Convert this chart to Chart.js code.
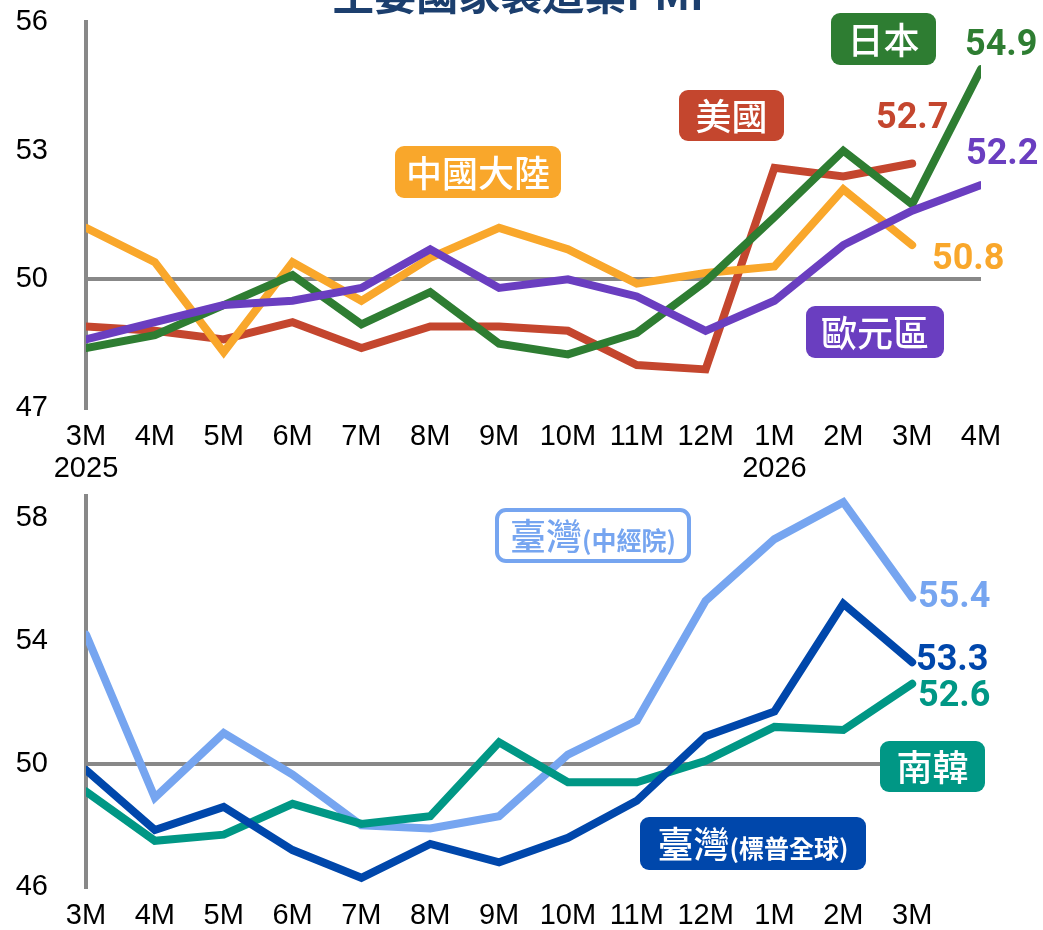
<!DOCTYPE html>
<html>
<head>
<meta charset="utf-8">
<script src="https://cdn.jsdelivr.net/npm/chart.js@4"></script>
<style>
  body { margin: 0; background: #fff; }
  .panel { position: absolute; left: 0; width: 1043px; }
  #topPanel { top: 0; height: 490px; }
  #bottomPanel { top: 490px; height: 440px; }
</style>
</head>
<body>
<div class="panel" id="topPanel"><canvas id="topChart"></canvas></div>
<div class="panel" id="bottomPanel"><canvas id="bottomChart"></canvas></div>
<script>
// x labels
const topMonths = [['3M', '2025'], '4M', '5M', '6M', '7M', '8M', '9M', '10M', '11M', '12M', ['1M', '2026'], '2M', '3M', '4M'];
const bottomMonths = ['3M', '4M', '5M', '6M', '7M', '8M', '9M', '10M', '11M', '12M', '1M', '2M', '3M', ''];

// top panel series
const china = [51.2, 50.4, 48.3, 50.4, 49.5, 50.5, 51.2, 50.7, 49.9, 50.15, 50.3, 52.1, 50.8];
const usa = [48.9, 48.8, 48.6, 49.0, 48.4, 48.9, 48.9, 48.8, 48.0, 47.9, 52.6, 52.4, 52.7];
const japan = [48.4, 48.7, 49.4, 50.1, 48.95, 49.7, 48.5, 48.25, 48.75, 49.95, 51.45, 53.0, 51.75, 54.9];
const euro = [48.6, 49.0, 49.4, 49.5, 49.8, 50.7, 49.8, 50.0, 49.6, 48.8, 49.5, 50.8, 51.6, 52.2];

// bottom panel series
const twCier = [54.2, 48.9, 51.0, 49.65, 48.0, 47.9, 48.3, 50.3, 51.4, 55.3, 57.3, 58.5, 55.4];
const twSP = [49.8, 47.85, 48.6, 47.2, 46.3, 47.4, 46.8, 47.6, 48.8, 50.9, 51.7, 55.2, 53.3];
const korea = [49.1, 47.5, 47.7, 48.7, 48.05, 48.3, 50.7, 49.4, 49.4, 50.1, 51.2, 51.1, 52.6];

// y ticks
const topTicks = [47, 50, 53, 56];
const bottomTicks = [46, 50, 54, 58];

const COLORS = {
  china: '#f9a72b',
  usa: '#c4462e',
  japan: '#2e7d32',
  euro: '#6a3ec0',
  twCier: '#76a5f0',
  twSP: '#0047ab',
  korea: '#009785',
  axis: '#888888',
  title: '#1c3f6e'
};

const tickFont = { family: '"Liberation Sans", Arial, sans-serif', size: 29, lineHeight: 1.1 };
const cjkFont = '"Noto Sans CJK TC", "Noto Sans CJK SC", sans-serif';
const numFont = 'Roboto, "Liberation Sans", sans-serif';

function line(data, color) {
  return {
    data: data,
    borderColor: color,
    borderWidth: 8,
    pointRadius: 0,
    tension: 0,
    borderJoinStyle: 'miter',
    borderCapStyle: 'round',
    clip: 0,
    fill: false
  };
}

function roundBox(ctx, x, y, w, h, r) {
  ctx.beginPath();
  ctx.moveTo(x + r, y);
  ctx.arcTo(x + w, y, x + w, y + h, r);
  ctx.arcTo(x + w, y + h, x, y + h, r);
  ctx.arcTo(x, y + h, x, y, r);
  ctx.arcTo(x, y, x + w, y, r);
  ctx.closePath();
}

// draws boxed series names, end values and the title
const annotate = {
  id: 'annotate',
  afterDatasetsDraw(chart, args, opts) {
    const ctx = chart.ctx;
    ctx.save();
    if (opts.title) {
      ctx.fillStyle = COLORS.title;
      ctx.font = 'bold 42px ' + cjkFont;
      ctx.textAlign = 'center';
      ctx.textBaseline = 'alphabetic';
      ctx.fillText(opts.title, 518, 10);
    }
    (opts.boxes || []).forEach(b => {
      roundBox(ctx, b.x, b.y, b.w, b.h, 9);
      if (b.outline) {
        ctx.fillStyle = '#fff';
        ctx.fill();
        ctx.lineWidth = 4;
        ctx.strokeStyle = b.color;
        ctx.stroke();
      } else {
        ctx.fillStyle = b.color;
        ctx.fill();
      }
      ctx.fillStyle = b.outline ? b.color : '#fff';
      ctx.textBaseline = 'middle';
      ctx.textAlign = 'left';
      ctx.font = '500 36px ' + cjkFont;
      const mainW = ctx.measureText(b.text).width;
      let subW = 0;
      if (b.sub) {
        ctx.font = 'bold 25px ' + cjkFont;
        subW = ctx.measureText(b.sub).width;
      }
      let tx = b.x + (b.w - mainW - subW) / 2;
      const ty = b.y + b.h / 2 + 1;
      ctx.font = '500 36px ' + cjkFont;
      ctx.fillText(b.text, tx, ty);
      if (b.sub) {
        ctx.font = 'bold 25px ' + cjkFont;
        ctx.fillText(b.sub, tx + mainW, ty + 4);
      }
    });
    (opts.values || []).forEach(v => {
      const ds = chart.data.datasets[v.ds];
      const last = ds.data[ds.data.length - 1];
      ctx.fillStyle = ds.borderColor;
      ctx.font = 'bold 36px ' + numFont;
      ctx.textAlign = 'left';
      ctx.textBaseline = 'middle';
      ctx.fillText(last.toFixed(1), v.x, v.y);
    });
    ctx.restore();
  }
};

function makeOptions(min, max, ticks, xHeight, topPad, plugOpts) {
  return {
    responsive: false,
    animation: false,
    layout: { padding: { left: 0, right: 62, top: topPad, bottom: 0 } },
    plugins: {
      legend: { display: false },
      tooltip: { enabled: false },
      annotate: plugOpts
    },
    scales: {
      x: {
        grid: { display: false, drawTicks: false },
        border: { display: false },
        ticks: { color: '#000', font: tickFont, padding: 13, maxRotation: 0, autoSkip: false },
        afterFit(scale) { scale.height = xHeight; scale.paddingLeft = 0; scale.paddingRight = 0; }
      },
      y: {
        min: min,
        max: max,
        afterBuildTicks(scale) { scale.ticks = ticks.map(v => ({ value: v })); },
        grid: {
          drawTicks: false,
          color: c => (c.tick && c.tick.value === 50 ? COLORS.axis : 'rgba(0,0,0,0)'),
          lineWidth: 4
        },
        border: { display: true, color: COLORS.axis, width: 4 },
        ticks: { color: '#000', font: tickFont, padding: 38 },
        afterFit(scale) { scale.width = 86; scale.paddingTop = 0; scale.paddingBottom = 0; }
      }
    }
  };
}

const topCanvas = document.getElementById('topChart');
topCanvas.width = 1043; topCanvas.height = 490;
new Chart(topCanvas, {
  type: 'line',
  data: {
    labels: topMonths,
    datasets: [
      line(euro, COLORS.euro),
      line(japan, COLORS.japan),
      line(china, COLORS.china),
      line(usa, COLORS.usa)
    ]
  },
  options: makeOptions(47, 56, topTicks, 82, 22, {
    title: '主要國家製造業PMI',
    boxes: [
      { text: '中國大陸', x: 395, y: 146, w: 166, h: 52, color: COLORS.china },
      { text: '美國', x: 679, y: 90, w: 105, h: 51, color: COLORS.usa },
      { text: '日本', x: 831, y: 13, w: 105, h: 52, color: COLORS.japan },
      { text: '歐元區', x: 806, y: 306, w: 138, h: 52, color: COLORS.euro }
    ],
    values: [
      { ds: 1, x: 965, y: 46 },
      { ds: 3, x: 876, y: 119 },
      { ds: 0, x: 966, y: 155 },
      { ds: 2, x: 932, y: 260 }
    ]
  }),
  plugins: [annotate]
});

const bottomCanvas = document.getElementById('bottomChart');
bottomCanvas.width = 1043; bottomCanvas.height = 440;
new Chart(bottomCanvas, {
  type: 'line',
  data: {
    labels: bottomMonths,
    datasets: [
      line(twSP, COLORS.twSP),
      line(korea, COLORS.korea),
      line(twCier, COLORS.twCier)
    ]
  },
  options: makeOptions(46, 58.7, bottomTicks, 43, 6, {
    boxes: [
      { text: '臺灣', sub: '(中經院)', x: 497, y: 20, w: 192, h: 51, color: COLORS.twCier, outline: true },
      { text: '南韓', x: 880, y: 251, w: 105, h: 51, color: COLORS.korea },
      { text: '臺灣', sub: '(標普全球)', x: 640, y: 327, w: 226, h: 53, color: COLORS.twSP }
    ],
    values: [
      { ds: 2, x: 918, y: 108 },
      { ds: 0, x: 916, y: 171 },
      { ds: 1, x: 918, y: 207 }
    ]
  }),
  plugins: [annotate]
});
</script>
</body>
</html>
